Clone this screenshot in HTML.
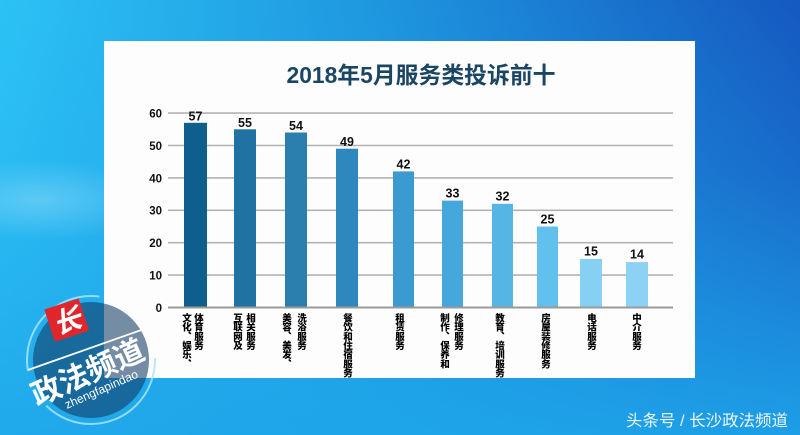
<!DOCTYPE html>
<html><head><meta charset="utf-8">
<style>
html,body{margin:0;padding:0;}
body{width:800px;height:435px;overflow:hidden;position:relative;font-family:"Liberation Sans","Noto Sans CJK SC",sans-serif;}
svg{position:absolute;left:0;top:0;}
.v{position:absolute;top:313px;width:10px;writing-mode:vertical-rl;font-size:9.5px;line-height:10px;font-weight:900;color:#000;font-family:"Noto Sans CJK SC","Liberation Sans",sans-serif;white-space:nowrap;letter-spacing:-0.3px;}
</style></head>
<body>
<svg width="800" height="435" viewBox="0 0 800 435" xmlns="http://www.w3.org/2000/svg">
<defs>
<linearGradient id="bgH" x1="0" y1="0" x2="1" y2="0">
<stop offset="0" stop-color="#2cc2f5"/>
<stop offset="0.45" stop-color="#1f99e0"/>
<stop offset="1" stop-color="#1558c0"/>
</linearGradient>
<linearGradient id="bgV" x1="0" y1="0" x2="0" y2="1">
<stop offset="0" stop-color="#22a8ec" stop-opacity="0"/>
<stop offset="0.4" stop-color="#22a8ec" stop-opacity="0.25"/>
<stop offset="1" stop-color="#1ea6ea" stop-opacity="0.9"/>
</linearGradient>
<radialGradient id="haze" cx="0.5" cy="0.5" r="0.5">
<stop offset="0" stop-color="#9fe0fa" stop-opacity="0.45"/>
<stop offset="1" stop-color="#9fe0fa" stop-opacity="0"/>
</radialGradient>
</defs>
<rect x="0" y="0" width="800" height="435" fill="url(#bgH)"/>
<rect x="0" y="0" width="800" height="435" fill="url(#bgV)"/>
<ellipse cx="40" cy="200" rx="120" ry="40" fill="url(#haze)"/>
<!-- panel -->
<rect x="104" y="41" width="591" height="337" fill="#fdfdfd"/>
<!-- title -->
<text x="421" y="83" text-anchor="middle" font-size="23" font-weight="bold" fill="#1a4664" textLength="269" lengthAdjust="spacingAndGlyphs" font-family="Liberation Sans, Noto Sans CJK SC, sans-serif">2018年5月服务类投诉前十</text>
<!-- gridlines -->
<g stroke="#b3b3b3" stroke-width="1.6">
<line x1="168" y1="113.1" x2="673" y2="113.1"/>
<line x1="168" y1="145.5" x2="673" y2="145.5"/>
<line x1="168" y1="177.9" x2="673" y2="177.9"/>
<line x1="168" y1="210.3" x2="673" y2="210.3"/>
<line x1="168" y1="242.7" x2="673" y2="242.7"/>
<line x1="168" y1="275.1" x2="673" y2="275.1"/>
</g>
<!-- y tick labels -->
<g font-size="11.5" font-weight="bold" fill="#111" text-anchor="end" font-family="Liberation Sans, sans-serif">
<text x="162" y="117.5">60</text>
<text x="162" y="149.9">50</text>
<text x="162" y="182.3">40</text>
<text x="162" y="214.7">30</text>
<text x="162" y="247.1">20</text>
<text x="162" y="279.5">10</text>
<text x="162" y="311.9">0</text>
</g>
<!-- bars -->
<g>
<rect x="184" y="122.8" width="23" height="184.7" fill="#0e5f8c"/>
<rect x="234" y="129.3" width="22" height="178.2" fill="#1f72a2"/>
<rect x="285" y="132.5" width="22" height="175" fill="#2a7fae"/>
<rect x="336" y="148.7" width="22" height="158.8" fill="#2f88bd"/>
<rect x="393" y="171.4" width="21" height="136.1" fill="#3b9bd0"/>
<rect x="442" y="200.6" width="21" height="106.9" fill="#45a7dc"/>
<rect x="492" y="203.8" width="21" height="103.7" fill="#55b6e6"/>
<rect x="537" y="226.5" width="21" height="81" fill="#62c0ec"/>
<rect x="580" y="258.9" width="22" height="48.6" fill="#86d0f4"/>
<rect x="626" y="262.1" width="22" height="45.4" fill="#8dd2f4"/>
</g>
<line x1="168" y1="307.5" x2="673" y2="307.5" stroke="#9a9a9a" stroke-width="2"/>
<!-- value labels -->
<g font-size="12.5" font-weight="bold" fill="#111" text-anchor="middle" font-family="Liberation Sans, sans-serif">
<text x="195.5" y="120.5">57</text>
<text x="245" y="127">55</text>
<text x="296" y="130">54</text>
<text x="347" y="146">49</text>
<text x="403.5" y="168.5">42</text>
<text x="452.5" y="197.5">33</text>
<text x="502.5" y="200.5">32</text>
<text x="547.5" y="223.5">25</text>
<text x="591" y="255.5">15</text>
<text x="637" y="258.5">14</text>
</g>
<!-- logo -->
<g>
<circle cx="91" cy="360" r="58" fill="rgb(18,58,100)" fill-opacity="0.58"/>
<circle cx="91" cy="360" r="64" fill="none" stroke="#a8e4fb" stroke-opacity="0.85" stroke-width="2" stroke-dasharray="150 40 120 90"/>
<g transform="rotate(-18 67 321)">
<rect x="49" y="303" width="36" height="34" fill="#e0262b"/>
<text x="67" y="331" text-anchor="middle" font-size="28" font-weight="bold" fill="#fff" font-style="italic" font-family="Noto Sans CJK SC, sans-serif">长</text>
</g>
<line x1="28" y1="370" x2="147" y2="328" stroke="#fff" stroke-width="1.8"/>
<text x="92" y="382" text-anchor="middle" font-size="30" font-weight="bold" fill="#fff" transform="rotate(-24 92 382)" font-family="Noto Sans CJK SC, sans-serif">政法频道</text>
<text x="103" y="393" text-anchor="middle" font-size="12" fill="#fff" transform="rotate(-24 103 393)" font-family="Liberation Sans, sans-serif">zhengfapindao</text>
</g>
<!-- watermark -->
<text x="626" y="426" font-size="16" fill="#fff" fill-opacity="0.92" textLength="162" lengthAdjust="spacingAndGlyphs" font-family="Liberation Sans, Noto Sans CJK SC, sans-serif">头条号 / 长沙政法频道</text>
</svg>
<!-- category labels (vertical) -->
<div class="v" style="left:182px">文化、娱乐、</div>
<div class="v" style="left:194px">体育服务</div>
<div class="v" style="left:233px">互联网及</div>
<div class="v" style="left:246px">相关服务</div>
<div class="v" style="left:282px">美容、美发、</div>
<div class="v" style="left:297px">洗浴服务</div>
<div class="v" style="left:343px">餐饮和住宿服务</div>
<div class="v" style="left:395px">租赁服务</div>
<div class="v" style="left:440px">制作、保养和</div>
<div class="v" style="left:454px">修理服务</div>
<div class="v" style="left:495px">教育、培训服务</div>
<div class="v" style="left:541px">房屋装修服务</div>
<div class="v" style="left:587px">电话服务</div>
<div class="v" style="left:632px">中介服务</div>
</body></html>
